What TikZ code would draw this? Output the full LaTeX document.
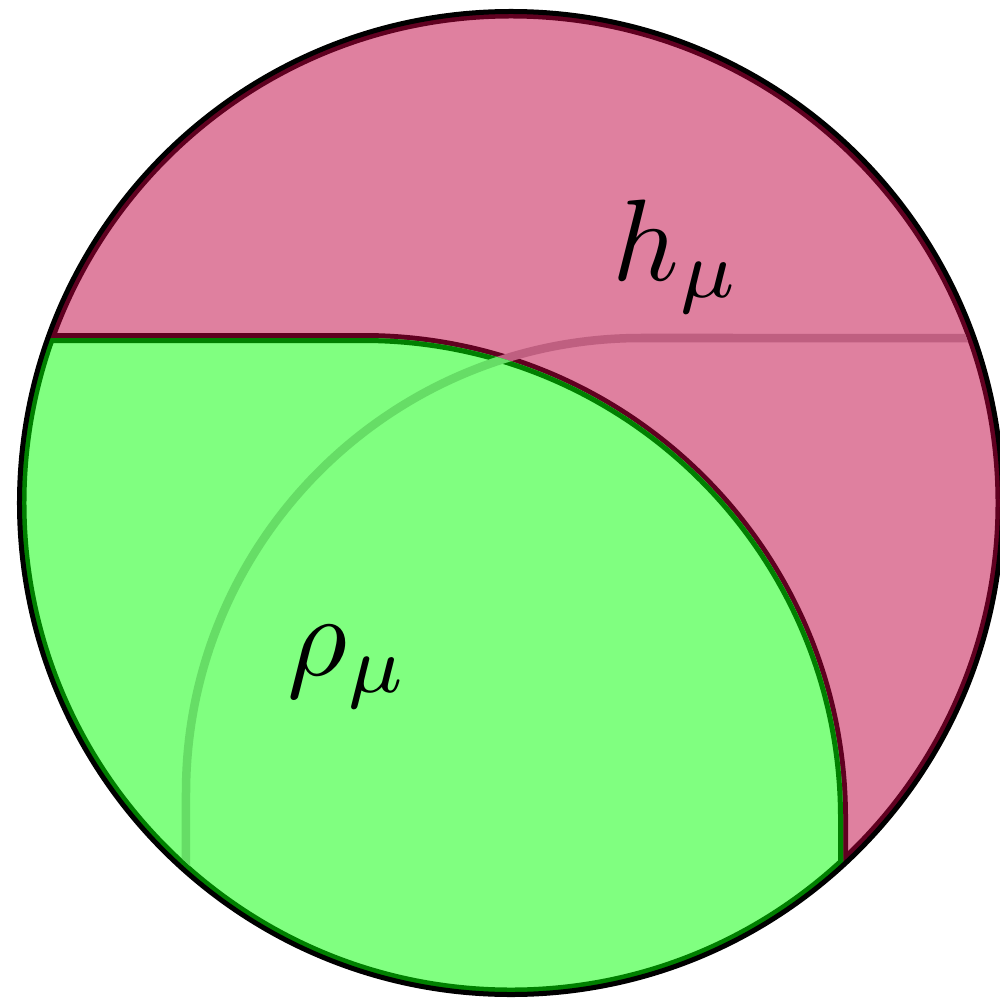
\documentclass[tikz,border=0pt]{standalone}
\usepackage{amsmath,amssymb}
\usepackage{tikz}
\definecolor{hfade}{RGB}{191,95,128}
\definecolor{rhofade}{RGB}{102,221,102}
\tikzset{
  lbl/.style={inner sep=0pt, anchor=base},
  edge/.style={line width=0.1cm},
  rim/.style={line width=0.14cm},
  fade/.style={line width=0.085cm}
}
\newcommand{\biglbl}[1]{\scalebox{3.3}{$#1$}}
\newcommand{\rhoregion}{(-6,1.65) -- (-1.48,1.65) arc[start angle=90, end angle=0, radius=4.8] -- (3.32,-6) -- (-6,-6) -- cycle}
\newcommand{\fadecurve}{(-3.25,-6) -- (-3.25,-2.90) arc[start angle=180, end angle=90, radius=4.55] -- (6,1.65)}

\begin{document}
\begin{tikzpicture}
  \useasboundingbox (-5.11,-4.96) rectangle (4.89,5.03);
  \def\R{4.915}
  \begin{scope}
    \clip (0,0) circle (\R);
    % h region
    \fill[purple!50] (0,0) circle (\R);
    \draw[rim, purple!50!black] (0,0) circle (\R);
    \draw[edge, purple!50!black] \rhoregion;
    \begin{scope}
      \clip (0,0) circle (\R-0.07);
      \draw[fade, hfade] \fadecurve;
    \end{scope}
    % rho region
    \begin{scope}
      \clip \rhoregion;
      \fill[green!50] (0,0) circle (\R);
      \draw[rim, green!50!black] (0,0) circle (\R);
      \draw[edge, green!50!black] \rhoregion;
      \clip (0,0) circle (\R-0.07);
      \draw[fade, rhofade] \fadecurve;
    \end{scope}
  \end{scope}
  % outline
  \draw[line width=0.05cm] (0,0) circle (\R);
  % labels
  \node[lbl] (h) at (1.66,2.23) {\biglbl{h_\mu}};
  \node[lbl] (rho) at (-1.62,-1.72) {\biglbl{\rho_\mu}};
\end{tikzpicture}
\end{document}
